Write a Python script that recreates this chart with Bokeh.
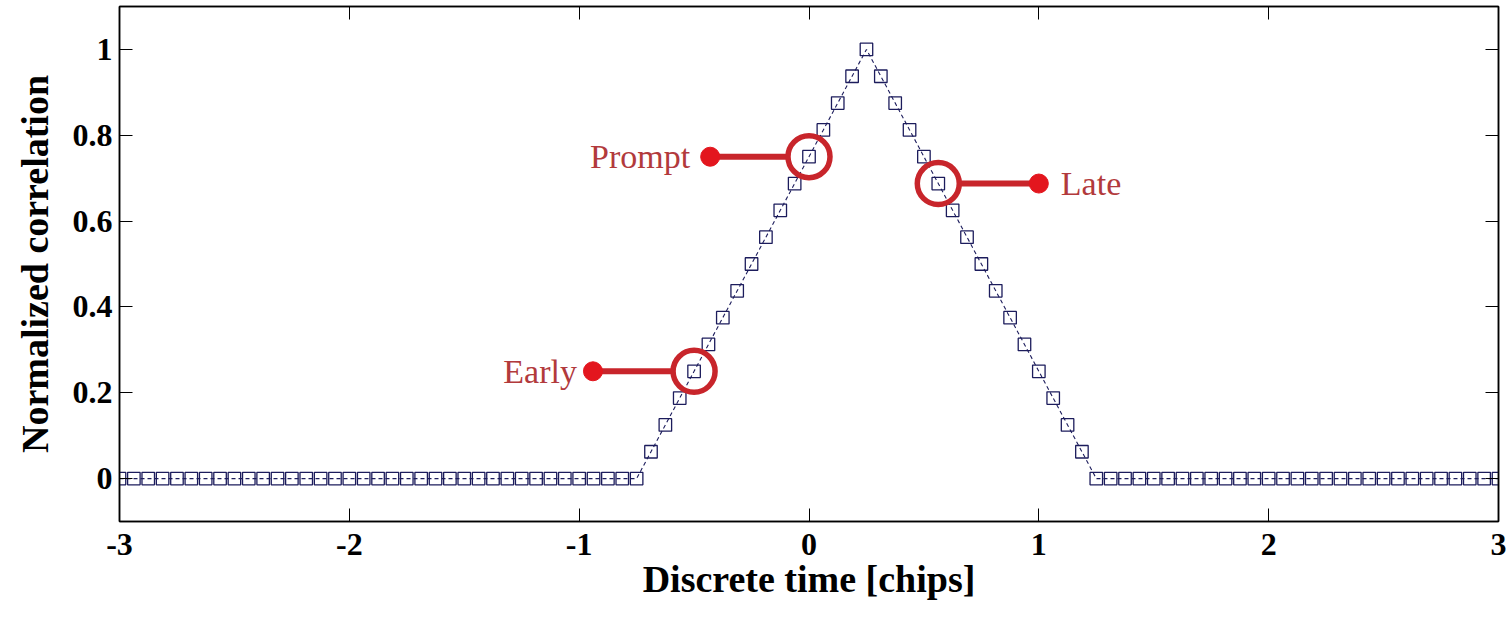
from bokeh.plotting import figure
from bokeh.models import Range1d, FixedTicker, LinearAxis, ColumnDataSource, CustomLabelingPolicy
from bokeh.core.properties import value
from bokeh.embed import file_html
from bokeh.resources import INLINE
import numpy as np

# ---- data ----
time_chips = list(np.linspace(-3, 3, 97))  # sample grid, 1/16 chip spacing
correlation = (
    [0.0] * 37
    + [0.0625, 0.125, 0.1875, 0.25, 0.3125, 0.375, 0.4375, 0.5,
       0.5625, 0.625, 0.6875, 0.75, 0.8125, 0.875, 0.9375, 1.0]
    + [0.9375, 0.875, 0.8125, 0.75, 0.6875, 0.625, 0.5625, 0.5,
       0.4375, 0.375, 0.3125, 0.25, 0.1875, 0.125, 0.0625]
    + [0.0] * 29
)

corr_names = ["Early", "Prompt", "Late"]
corr_x = [-0.5, 0.0, 0.5625]
corr_y = [0.25, 0.75, 0.6875]
label_x = [-0.94, -0.43, 1.0]

x_ticks = [-3, -2, -1, 0, 1, 2, 3]
x_tick_labels = ["-3", "-2", "-1", "0", "1", "2", "3"]
y_ticks = [0, 0.2, 0.4, 0.6, 0.8, 1]
y_tick_labels = ["0", "0.2", "0.4", "0.6", "0.8", "1"]

# ---- figure ----
p = figure(width=1512, height=623, output_backend="svg", toolbar_location=None,
           x_range=Range1d(-3, 3), y_range=Range1d(-0.1, 1.1),
           min_border_left=119, min_border_right=14, min_border_top=6,
           min_border_bottom=102)
p.grid.visible = False
p.outline_line_color = "black"
p.outline_line_width = 1.5
p.background_fill_color = "white"
p.border_fill_color = "white"

SERIF = value("Liberation Serif")

hide_all = CustomLabelingPolicy(code="""
    const ids = Array.from(indices);
    for (const i of ids) { indices.unset(i) }
    return indices
""")

def style_axis(ax, ticks, labels, show_labels=True):
    ax.ticker = FixedTicker(ticks=ticks)
    ax.major_label_overrides = {t: l for t, l in zip(ticks, labels)}
    ax.major_tick_in = 13
    ax.major_tick_out = 0
    ax.minor_tick_line_color = None
    ax.major_tick_line_color = "black"
    ax.major_tick_line_width = 1
    ax.axis_line_color = "black"
    ax.axis_line_width = 1.5
    ax.major_label_text_font = "Liberation Serif"
    ax.major_label_text_font_style = "bold"
    ax.major_label_text_color = "black"
    ax.major_label_text_font_size = "32px"
    if not show_labels:
        ax.major_label_policy = hide_all
        ax.major_label_standoff = 0
        ax.major_label_text_font_size = "1px"

xa = p.xaxis[0]
style_axis(xa, x_ticks, x_tick_labels)
xa.major_label_standoff = 12
xa.axis_label = "Discrete time [chips]"
xa.axis_label_text_font = "Liberation Serif"
xa.axis_label_text_font_style = "bold"
xa.axis_label_text_font_size = "38px"
xa.axis_label_text_color = "black"
xa.axis_label_standoff = 0

ya = p.yaxis[0]
style_axis(ya, y_ticks, y_tick_labels)
ya.major_label_standoff = 7
ya.axis_label = "Normalized correlation"
ya.axis_label_text_font = "Liberation Serif"
ya.axis_label_text_font_style = "bold"
ya.axis_label_text_font_size = "38px"
ya.axis_label_text_color = "black"
ya.axis_label_standoff = 14

top_ax = LinearAxis()
style_axis(top_ax, x_ticks, x_tick_labels, show_labels=False)
p.add_layout(top_ax, "above")
right_ax = LinearAxis()
style_axis(right_ax, y_ticks, y_tick_labels, show_labels=False)
p.add_layout(right_ax, "right")

RED = "#c8252b"
DOT = "#e3161e"
TXT = "#b23a3c"

ann = ColumnDataSource(dict(
    cx=corr_x, cy=corr_y, lx=label_x, name=corr_names,
    align=["right", "right", "left"], off=[-16, -20, 22],
))

# connector bars
p.segment(x0="lx", y0="cy", x1="cx", y1="cy", source=ann,
          line_color=RED, line_width=6)
# white interior of rings
p.scatter(x="cx", y="cy", source=ann, marker="circle", size=40,
          fill_color="white", line_color=None)

# data
src = ColumnDataSource(dict(t=time_chips, c=correlation))
p.line(x="t", y="c", source=src, line_color="#1c1c5c", line_width=1.1,
       line_dash="4 3")
p.scatter(x="t", y="c", source=src, marker="square", size=12.5,
          fill_color=None, line_color="#1c1c5c", line_width=1.3)

# rings
p.scatter(x="cx", y="cy", source=ann, marker="circle", size=42,
          fill_color=None, line_color=RED, line_width=5.5)
# dots
p.scatter(x="lx", y="cy", source=ann, marker="circle", size=19,
          fill_color=DOT, line_color=DOT)
# labels
p.text(x="lx", y="cy", text="name", source=ann, x_offset="off",
       text_align="align", text_baseline="middle",
       text_font=SERIF, text_font_size="34px", text_color=TXT)

open("out.html", "w").write(file_html(p, INLINE))
